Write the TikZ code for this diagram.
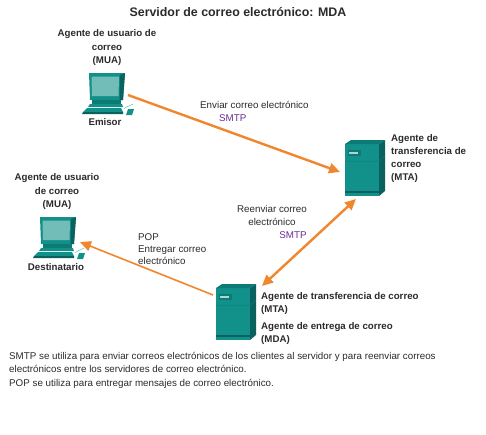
\documentclass[tikz,border=0pt]{standalone}
\usepackage{fontspec}
\setmainfont{Liberation Sans}
\usetikzlibrary{arrows.meta}
\definecolor{tealA}{HTML}{12908A}
\definecolor{tealB}{HTML}{0C7A75}
\definecolor{tealC}{HTML}{0A625F}
\definecolor{tealD}{HTML}{72BDB8}
\definecolor{arrowO}{HTML}{F0862E}
\definecolor{txt}{HTML}{2B2B2B}
\definecolor{proto}{HTML}{6A2C91}
\tikzset{
  lbl/.style={font=\fontsize{9.8}{13.2}\selectfont,text=txt,align=center,inner sep=0pt},
  lblb/.style={lbl,font=\fontsize{9.7}{13.2}\selectfont\bfseries},
  lbll/.style={lbl,align=left,anchor=north west},
  lblbl/.style={lblb,align=left,anchor=north west},
  flow/.style={draw=arrowO,line width=2.4pt,-{Triangle[length=11pt,width=10pt]}},
  flowboth/.style={draw=arrowO,line width=2.4pt,{Triangle[length=11pt,width=10pt]}-{Triangle[length=11pt,width=10pt]}},
  flowthin/.style={draw=arrowO,line width=1.6pt,-{Triangle[length=11pt,width=10pt]}},
  pcpic/.pic={
    \fill[tealA] (0,0) -- (36,0) -- (34,27) -- (1,27) -- cycle;
    \fill[tealC] (31,2) -- (36,0) -- (34,27) -- (30.5,27) -- cycle;
    \fill[tealD] (2.5,3.5) -- (30,3.5) -- (29.5,23) -- (3,23) -- cycle;
    \fill[tealB] (3,27) -- (32,27) -- (32,31) -- (3,31) -- cycle;
    \fill[tealA] (1,31) -- (33,31) -- (34,34) -- (-1,34) -- cycle;
    \fill[tealA] (-2,35) -- (32,35) -- (34,39) -- (-6,39) -- cycle;
    \fill[tealC] (-6,39) -- (34,39) -- (34,41) -- (-7,41) -- cycle;
    \fill[tealA] (39,36) -- (45,36) -- (43,42) -- (37,42) -- cycle;
    \draw[tealD,line width=.5pt] (35,36) .. controls (38,33) and (41,33) .. (44,31);
  },
  srvpic/.pic={
    \fill[tealA] (0,0) rectangle (34,52);
    \fill[tealC] (34,0) -- (40,-4) -- (40,47) -- (34,52) -- cycle;
    \fill[tealB] (0,0) -- (6,-4) -- (40,-4) -- (34,0) -- cycle;
    \draw[tealB,line width=.5pt] (0,17) -- (34,17) -- (40,12);
    \fill[tealC] (0,47) rectangle (34,48.5);
    \fill[tealB] (3,6) rectangle (16,12);
    \fill[tealD!60!white] (4,8) rectangle (13,10);
  }
}
\begin{document}
\begin{tikzpicture}[x=1pt,y=-1pt]
\useasboundingbox (0,0) rectangle (486,434);
\fill[white] (0,0) rectangle (486,434);
\node[lbl,font=\fontsize{12.4}{14}\selectfont\bfseries] (title) at (238,12.5) {Servidor de correo electrónico: MDA};

\pic at (89,73) {pcpic};
\pic at (40,217) {pcpic};
\pic at (345,144) {srvpic};
\pic at (216,288) {srvpic};

\node[lblb] (muaA) at (107,47.5) {Agente de usuario de\\correo\\(MUA)};
\node[lblb] (emisor) at (105,122) {Emisor};
\node[lblb] (muaB) at (57,191.5) {Agente de usuario\\de correo\\(MUA)};
\node[lblb] (destino) at (56,267) {Destinatario};
\node[lblbl] (mtaA) at (391,134) {Agente de\\transferencia de\\correo\\(MTA)};
\node[lblbl] (mtaB) at (261,292) {Agente de transferencia de correo\\(MTA)};
\node[lblbl] (mda) at (261,322) {Agente de entrega de correo\\(MDA)};

\node[lbll] (envia) at (200,101) {Enviar correo electrónico};
\node[lbll,text=proto] (smtpA) at (219,114.5) {SMTP};
\node[lbl] (reenv) at (272,215.5) {Reenviar correo\\electrónico};
\node[lbl,text=proto] (smtpB) at (293,235) {SMTP};
\node[lbll,font=\fontsize{9.8}{12}\selectfont] (pop) at (138,233.5) {POP\\Entregar correo\\electrónico};
\node[lbll,font=\fontsize{9.8}{13.5}\selectfont] (nota) at (9,352) {SMTP se utiliza para enviar correos electrónicos de los clientes al servidor y para reenviar correos\\electrónicos entre los servidores de correo electrónico.\\POP se utiliza para entregar mensajes de correo electrónico.};

\coordinate (a1) at (128,95);
\coordinate (a2) at (340,172);
\coordinate (b1) at (356,199);
\coordinate (b2) at (262,286);
\coordinate (c1) at (213,295);
\coordinate (c2) at (80,242);
\draw[flow] (a1) -- (a2);
\draw[flowboth] (b1) -- (b2);
\draw[flowthin] (c1) -- (c2);
\end{tikzpicture}
\end{document}
